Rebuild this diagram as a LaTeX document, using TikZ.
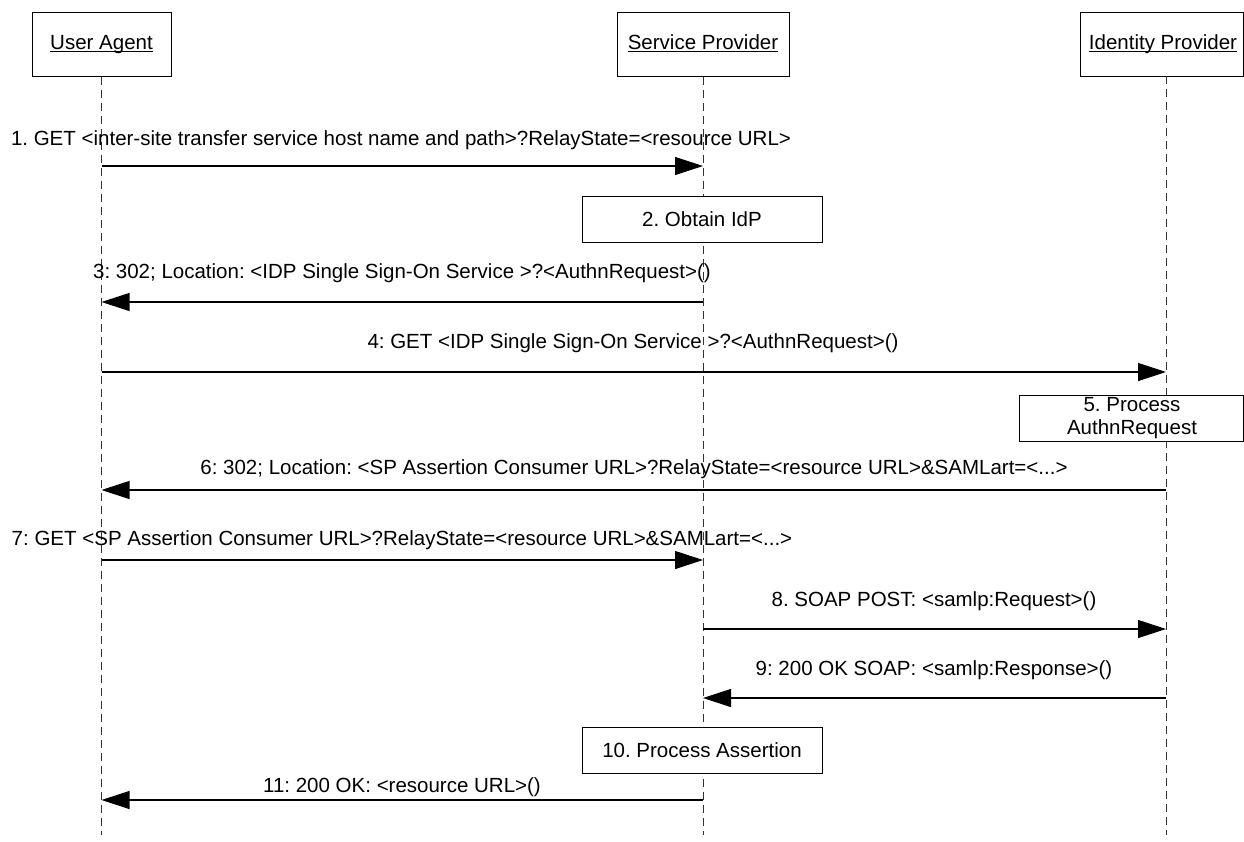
\documentclass[tikz,border=0pt]{standalone}
\usepackage{fontspec}
\setmainfont{Liberation Sans}
\usetikzlibrary{arrows.meta}
\newcommand\myul[1]{\setbox0\hbox{#1}\rlap{\rule[-2.5pt]{\wd0}{1pt}}\box0}
\begin{document}
\frenchspacing
\begin{tikzpicture}[x=1pt,y=-1pt,
  every node/.style={font=\fontsize{20.5}{24}\selectfont\frenchspacing, inner sep=0pt},
  headbox/.style={draw, line width=1pt, fill=white},
  headtxt/.style={text height=15pt, text depth=4pt},
  actbox/.style={draw, line width=1pt, fill=white, align=center},
  life/.style={line width=0.9pt, dash pattern=on 8pt off 5pt, black!80},
  msg/.style={line width=1.1pt, -{Triangle[length=28pt,width=18pt]}},
  lbl/.style={anchor=center}]
\useasboundingbox (0,0) rectangle (1244,841);
% lifeline heads
\node[headbox, headtxt, minimum width=139pt, minimum height=64pt] (ua) at (101.5,44) {\myul{User Agent}};
\node[headbox, headtxt, minimum width=172pt, minimum height=64pt] (sp) at (703,44) {\myul{Service Provider}};
\draw[headbox] (1080,12) rectangle (1243,76);
\node[headtxt] (idp) at (1163,44) {\myul{Identity Provider}};
% lifeline ends
\coordinate (uaE) at (101.5,835);
\coordinate (spE) at (703,835);
\coordinate (idpE) at (1166,835);
\coordinate (idpT) at (1166,76);
\draw[life] (ua.south) -- (uaE);
\draw[life] (sp.south) -- (spE);
\draw[life] (idpT) -- (idpE);
% activity boxes
\node[actbox, minimum width=240pt, minimum height=46pt] (b2) at (702,219) {2. Obtain IdP};
\draw[actbox] (1019,395) rectangle (1243,441);
\node[align=center, font=\fontsize{20.5}{23}\selectfont] (b5) at (1132,418) {5. Process\\AuthnRequest};
\node[actbox, minimum width=240pt, minimum height=46pt] (b10) at (702,750.5) {10. Process Assertion};
% message anchor points
\coordinate (ua1) at (101.5,166);  \coordinate (sp1) at (703,166);
\coordinate (sp3) at (703,302);    \coordinate (ua3) at (101.5,302);
\coordinate (ua4) at (101.5,372);  \coordinate (idp4) at (1166,372);
\coordinate (idp6) at (1166,490);  \coordinate (ua6) at (101.5,490);
\coordinate (ua7) at (101.5,560);  \coordinate (sp7) at (703,560);
\coordinate (sp8) at (703,629);    \coordinate (idp8) at (1166,629);
\coordinate (idp9) at (1166,698);  \coordinate (sp9) at (703,698);
\coordinate (sp11) at (703,800);   \coordinate (ua11) at (101.5,800);
% messages
\draw[msg] (ua1) -- (sp1);
\node[lbl] (m1) at (401,140) {1. GET <inter-site transfer service host name and path>?RelayState=<resource URL>};
\draw[msg] (sp3) -- (ua3);
\node[lbl] (m3) at (402,273) {3: 302; Location: <IDP Single Sign-On Service >?<AuthnRequest>()};
\draw[msg] (ua4) -- (idp4);
\node[lbl] (m4) at (633,343) {4: GET <IDP Single Sign-On Service >?<AuthnRequest>()};
\draw[msg] (idp6) -- (ua6);
\node[lbl] (m6) at (634,469) {6: 302; Location: <SP Assertion Consumer URL>?RelayState=<resource URL>\&SAMLart=<...>};
\draw[msg] (ua7) -- (sp7);
\node[lbl] (m7) at (402,540) {7: GET <SP Assertion Consumer URL>?RelayState=<resource URL>\&SAMLart=<...>};
\draw[msg] (sp8) -- (idp8);
\node[lbl] (m8) at (934,601) {8. SOAP POST: <samlp:Request>()};
\draw[msg] (idp9) -- (sp9);
\node[lbl] (m9) at (934,670) {9: 200 OK SOAP: <samlp:Response>()};
\draw[msg] (sp11) -- (ua11);
\node[lbl] (m11) at (402,787) {11: 200 OK: <resource URL>()};
\end{tikzpicture}
\end{document}
